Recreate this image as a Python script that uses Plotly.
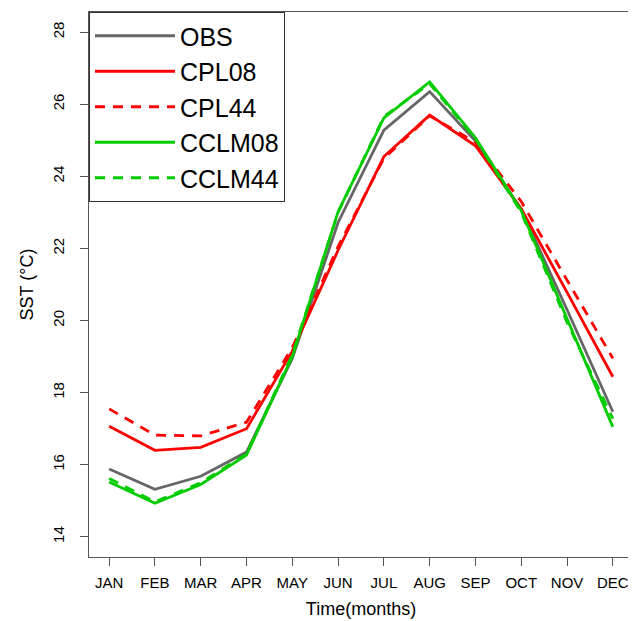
import plotly.graph_objects as go

months = ["JAN", "FEB", "MAR", "APR", "MAY", "JUN", "JUL", "AUG", "SEP", "OCT", "NOV", "DEC"]
month_idx = list(range(1, 13))

obs    = [15.88, 15.32, 15.68, 16.35, 18.95, 22.72, 25.28, 26.35, 24.98, 23.08, 20.30, 17.47]
cpl08  = [17.07, 16.40, 16.48, 17.00, 19.15, 21.95, 24.55, 25.70, 24.85, 23.10, 20.78, 18.44]
cpl44  = [17.55, 16.82, 16.80, 17.18, 19.25, 22.05, 24.50, 25.68, 24.95, 23.30, 21.12, 18.95]
cclm08 = [15.52, 14.93, 15.45, 16.27, 19.00, 23.02, 25.62, 26.62, 25.07, 23.05, 20.05, 17.05]
cclm44 = [15.62, 14.97, 15.50, 16.30, 19.05, 23.00, 25.66, 26.57, 25.03, 23.00, 19.95, 17.28]

series = [
    ("OBS", obs, "#666666", "solid"),
    ("CPL08", cpl08, "#FF0000", "solid"),
    ("CPL44", cpl44, "#FF0000", "10px,8px"),
    ("CCLM08", cclm08, "#00CC00", "solid"),
    ("CCLM44", cclm44, "#00CC00", "10px,8px"),
]

y_ticks = [14, 16, 18, 20, 22, 24, 26, 28]

fig = go.Figure()
for name, vals, col, dash in series:
    fig.add_trace(go.Scatter(
        x=month_idx, y=vals, mode="lines", name=name,
        line=dict(color=col, width=2.8, dash=dash),
    ))

font_family = "Liberation Sans, Arial, Helvetica, sans-serif"
# page body has a default 8px margin: figure is sized/offset to compensate
fig.update_layout(
    width=628, height=613,
    margin=dict(l=81, r=3, t=4, b=64, autoexpand=False),
    paper_bgcolor="white", plot_bgcolor="white",
    font=dict(family=font_family, color="black", size=15),
    showlegend=True,
    legend=dict(
        x=0, y=1, xanchor="left", yanchor="top",
        bgcolor="white", bordercolor="#333333", borderwidth=1,
        font=dict(size=25, family=font_family, color="black"),
        itemwidth=80, tracegroupgap=0,
    ),
    xaxis=dict(
        range=[0.56, 12.44], tickmode="array", tickvals=month_idx, ticktext=months,
        ticks="outside", ticklen=8, tickcolor="#555555", tickwidth=1,
        showline=True, mirror=True, linecolor="#555555", linewidth=1,
        showgrid=False, zeroline=False, automargin=False,
        tickfont=dict(size=15), ticklabelstandoff=4,
        title=dict(text="Time(months)", font=dict(size=18), standoff=12),
    ),
    yaxis=dict(
        range=[13.44, 28.56], tickmode="array", tickvals=y_ticks,
        ticks="outside", ticklen=8, tickcolor="#555555", tickwidth=1,
        showline=True, mirror=True, linecolor="#555555", linewidth=1,
        showgrid=False, zeroline=False, tickangle=-90, automargin=False,
        tickfont=dict(size=15), ticklabelstandoff=10,
        title=dict(text="SST (°C)", font=dict(size=18), standoff=11),
    ),
)

fig.write_html("out.html")
